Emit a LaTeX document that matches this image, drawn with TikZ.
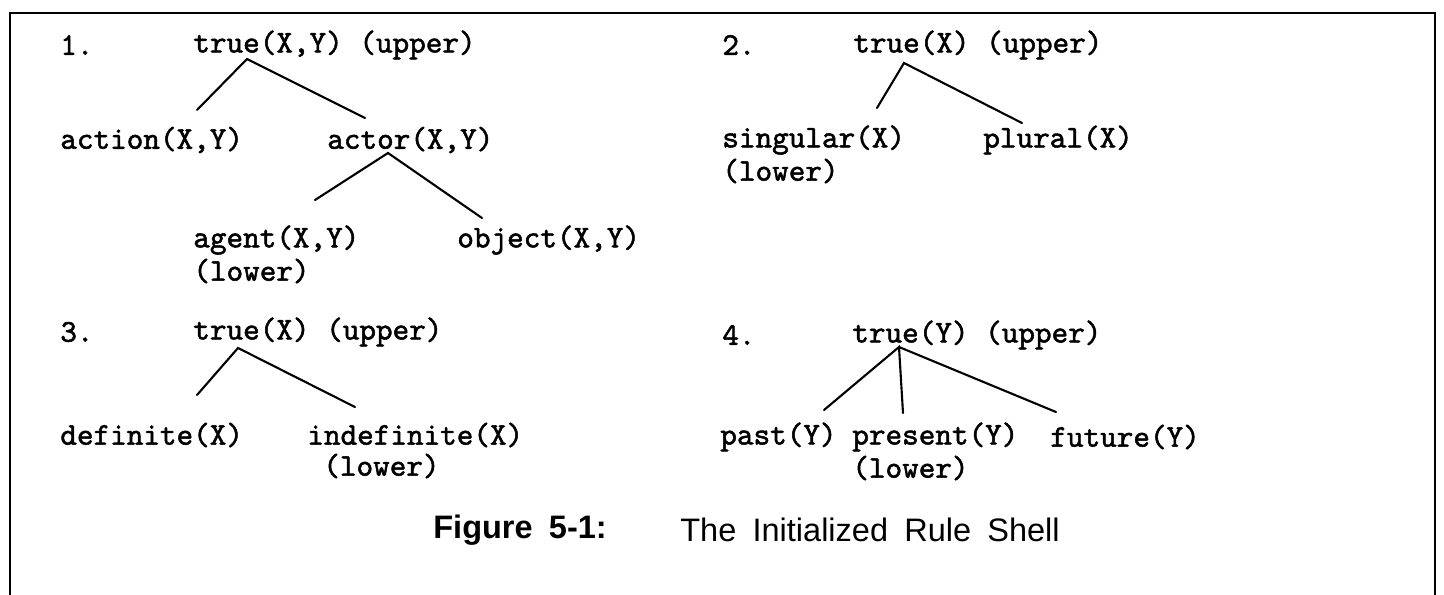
\documentclass[tikz,border=0pt]{standalone}
\usepackage{fontspec}
\usepackage{tikz}
\usetikzlibrary{calc}
\newfontfamily\treefont[FakeBold=1.6]{lmmono10-regular.otf}
\newfontfamily\capfont[WordSpace=1.8]{Liberation Sans}
\tikzset{
    term/.style={anchor=west, inner sep=0pt, font={\treefont\fontsize{18}{20}\selectfont}},
    branch/.style={line width=1.2pt, line cap=round},
    capline/.style={anchor=west, inner sep=0pt, font={\capfont\fontsize{18.5}{22}\selectfont}}
}

\begin{document}
\begin{tikzpicture}[x=0.02cm, y=-0.02cm]
    \useasboundingbox (0, 0) rectangle (1444, 595);
    % Frame:
    \draw[line width=1.6pt] (10, 595) -- (10, 13) -- (1435, 13) -- (1435, 595);

    % Tree 1:
    \node[term] (n1) at (60, 45){1.};
    \node[term] (t1) at (193, 45){true(X,Y) (upper)};
    \node[term] (action) at (60, 140){action(X,Y)};
    \node[term] (actor) at (327, 140){actor(X,Y)};
    \node[term] (agent) at (193, 240){agent(X,Y)};
    \node[term] (agentlow) at (193, 271){(lower)};
    \node[term] (object) at (457, 240){object(X,Y)};
    \draw[branch] ($(action.west)+(137, -30)$) -- ($(t1.west)+(54, 14)$) -- ($(actor.west)+(38, -22)$);
    \draw[branch] ($(agent.west)+(122, -40)$) -- ($(actor.west)+(61, 13)$) -- ($(object.west)+(25, -22)$);

    % Tree 2:
    \node[term] (n2) at (722, 45){2.};
    \node[term] (t2) at (853, 45){true(X) (upper)};
    \node[term] (singular) at (722, 140){singular(X)};
    \node[term] (singlow) at (722, 171){(lower)};
    \node[term] (plural) at (983, 140){plural(X)};
    \draw[branch] ($(singular.west)+(155, -32)$) -- ($(t2.west)+(51, 18)$) -- ($(plural.west)+(39, -17)$);

    % Tree 3:
    \node[term] (n3) at (60, 332){3.};
    \node[term] (t3) at (193, 332){true(X) (upper)};
    \node[term] (definite) at (60, 435){definite(X)};
    \node[term] (indefinite) at (307, 435){indefinite(X)};
    \node[term] (indeflow) at (323, 466){(lower)};
    \draw[branch] ($(definite.west)+(137, -40)$) -- ($(t3.west)+(45, 16)$) -- ($(indefinite.west)+(48, -28)$);

    % Tree 4:
    \node[term] (n4) at (722, 335){4.};
    \node[term] (t4) at (852, 335){true(Y) (upper)};
    \node[term] (past) at (720, 437){past(Y)};
    \node[term] (present) at (852, 437){present(Y)};
    \node[term] (preslow) at (852, 468){(lower)};
    \node[term] (future) at (1050, 437){future(Y)};
    \draw[branch] ($(past.west)+(104, -27)$) -- ($(t4.west)+(47, 12)$) -- ($(present.west)+(51, -24)$);
    \draw[branch] ($(t4.west)+(47, 12)$) -- ($(future.west)+(6, -25)$);

    % Caption:
    \node[capline, font={\capfont\bfseries\fontsize{18.5}{22}\selectfont}] (fig) at (433, 530){Figure 5-1:};
    \node[capline] (title) at (680, 530){The Initialized Rule Shell};
\end{tikzpicture}
\end{document}
